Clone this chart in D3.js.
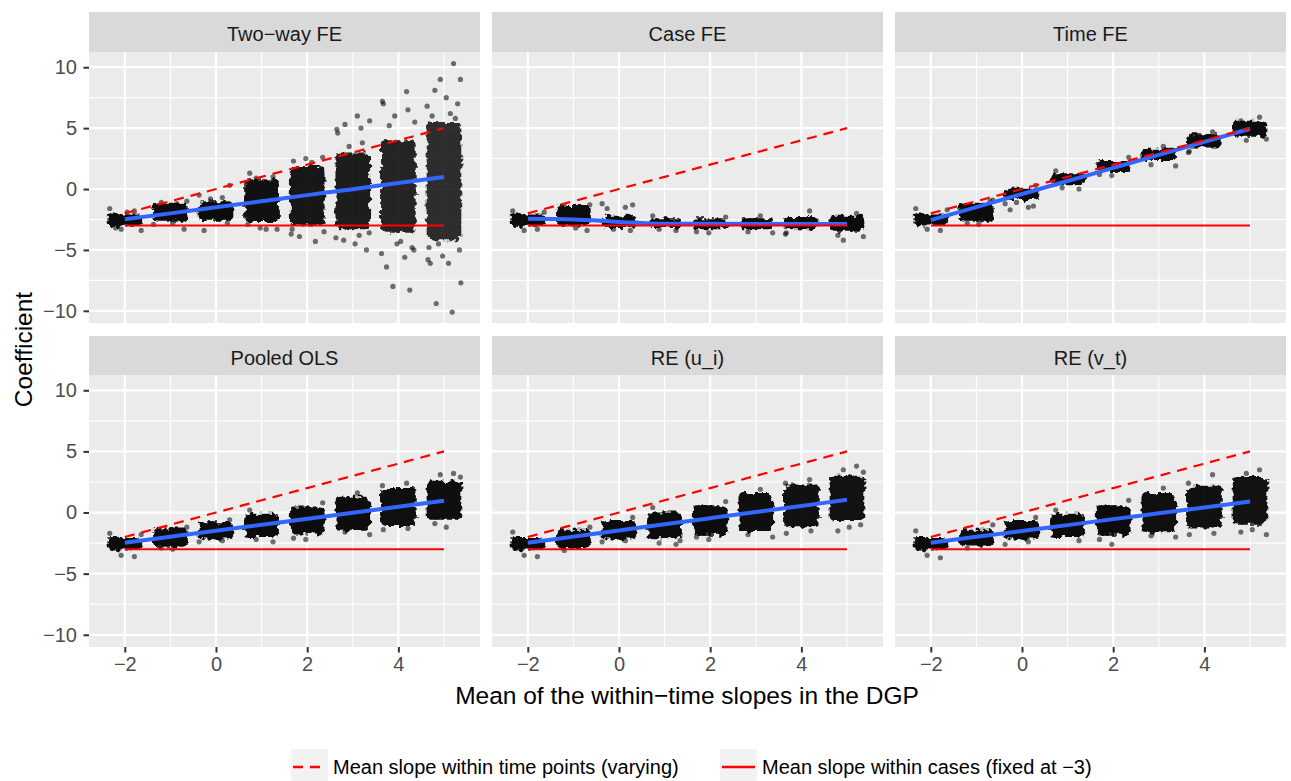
<!DOCTYPE html>
<html>
<head>
<meta charset="utf-8">
<script src="https://cdn.jsdelivr.net/npm/d3@7"></script>
<style>
  body { margin: 0; background: #fff; }
  text { font-family: "Liberation Sans", Arial, Helvetica, sans-serif; }
</style>
</head>
<body>
<div id="chart"></div>
<script>
// x levels (mean of within-time slopes in the DGP)
const levels = [-2, -1, 0, 1, 2, 3, 4, 5];
const panelNames = ["Two\u2212way FE", "Case FE", "Time FE", "Pooled OLS", "RE (u_i)", "RE (v_t)"];

// dense part of each jittered cloud (low / high), one row per panel
const coreLow = [
  [-3.1, -2.6, -2.6, -2.7, -3.0, -3.3, -3.6, -4.2],
  [-3.1, -3.0, -3.2, -3.2, -3.3, -3.3, -3.3, -3.5],
  [-3.0, -2.6, -0.9, 0.3, 1.4, 2.3, 3.4, 4.3],
  [-3.1, -2.8, -2.2, -2.0, -1.8, -1.5, -1.1, -0.6],
  [-3.1, -2.9, -2.2, -2.1, -1.9, -1.6, -1.2, -0.7],
  [-3.1, -2.7, -2.2, -2.0, -1.9, -1.7, -1.3, -1.0]
];
const coreHigh = [
  [-2.0, -1.2, -1.0, 0.8, 1.9, 3.0, 4.0, 5.5],
  [-2.0, -1.4, -2.2, -2.4, -2.4, -2.4, -2.3, -2.2],
  [-2.0, -1.2, 0.1, 1.3, 2.3, 3.3, 4.5, 5.6],
  [-2.0, -1.3, -0.8, -0.1, 0.5, 1.3, 2.0, 2.6],
  [-2.0, -1.4, -0.7, 0.0, 0.6, 1.6, 2.3, 3.0],
  [-2.0, -1.4, -0.7, -0.1, 0.6, 1.6, 2.2, 2.9]
];

// scattered points outside the dense part
const fringeY = [
  [
    [-1.6, -1.8, -3.3, -3.4, -3.2, -1.9],
    [-1.0, -1.1, -2.8, -3.3, -2.9, -1.2],
    [0.3, -0.5, -0.7, -3.4, -2.8, -0.8],
    [1.3, 1.0, 0.9, -3.3, -3.2, -2.9, -3.3],
    [2.6, 2.5, 2.3, 2.2, -3.5, -3.9, -4.3, -3.7, -3.3],
    [6.0, 5.6, 5.3, 5.0, 4.9, 4.6, 3.8, 3.5, -3.6, -4.2, -4.5, -5.0, -4.0, -3.8],
    [8.0, 7.2, 7.0, 6.5, 6.0, 5.5, 5.2, -4.3, -4.8, -5.3, -5.6, -6.4, -8.3, -8.0, -5.0, -4.5],
    [10.3, 9.0, 9.0, 8.1, 7.5, 7.0, 6.8, 6.2, 6.0, 5.8, -4.5, -5.0, -5.5, -6.1, -6.1, -7.7, -9.4, -10.1, -5.8, -4.8]
  ],
  [
    [-1.8, -3.3, -3.4, -1.9],
    [-1.3, -1.4, -3.2, -3.4],
    [-1.3, -1.2, -1.5, -1.6, -3.4, -3.3],
    [-2.2, -3.4, -3.3],
    [-2.3, -3.6, -3.5],
    [-2.2, -3.6, -3.5],
    [-1.8, -3.7, -3.6],
    [-2.0, -4.2, -3.9, -3.8]
  ],
  [
    [-1.6, -3.4, -3.3, -1.7],
    [-0.9, -2.8, -2.9, -1.0],
    [0.3, -1.2, -1.5, -1.7, -1.4, -1.1],
    [1.5, 0.0, 0.1],
    [2.6, 1.1, 1.2],
    [3.5, 1.9, 2.0],
    [4.7, 3.0, 3.1],
    [5.9, 4.0, 4.1, 5.6]
  ],
  [
    [-1.7, -3.6, -3.5, -1.8],
    [-1.2, -2.9, -3.0],
    [-0.6, -2.4, -2.3],
    [0.2, -2.4, -2.2],
    [0.8, -2.2, -2.1],
    [1.6, -1.8, -1.6],
    [2.4, 2.2, -1.4, -1.3],
    [3.2, 3.1, 2.9, -0.9, -1.2]
  ],
  [
    [-1.6, -3.6, -3.5],
    [-1.2, -3.1],
    [-0.4, -2.4, -2.3],
    [0.4, -2.6, -2.5, -2.3],
    [0.9, -2.2, -2.0],
    [1.9, -2.0, -1.8],
    [2.7, 2.4, -1.7, -1.5],
    [3.8, 3.5, 3.3, -1.5, -1.2, -1.0]
  ],
  [
    [-1.5, -3.7, -3.5],
    [-1.0, -2.9],
    [-0.4, -2.6, -2.4],
    [0.2, -2.3],
    [1.0, -2.6, -2.2],
    [2.0, -2.0, -1.9],
    [3.1, 2.4, -1.8, -1.7],
    [3.5, 3.2, -1.8, -1.6, -1.4]
  ]
];
// horizontal jitter of the scattered points (in x units)
const jitterOffsets = [-0.33, 0.21, -0.08, 0.36, -0.2, 0.05, 0.3, -0.37, 0.14, -0.26,
                       0.25, -0.12, 0.34, -0.03, -0.3, 0.1, 0.37, -0.17, 0.18, -0.35];

// blue smoothed fit at each level
const fitLine = [
  [-2.49, -2.0, -1.5, -1.0, -0.5, -0.01, 0.49, 0.98],
  [-2.45, -2.5, -2.7, -2.85, -2.86, -2.87, -2.88, -2.88],
  [-2.55, -1.48, -0.41, 0.66, 1.73, 2.8, 3.87, 4.95],
  [-2.47, -1.98, -1.49, -1.0, -0.51, -0.02, 0.47, 0.96],
  [-2.47, -1.97, -1.47, -0.96, -0.46, 0.04, 0.54, 1.04],
  [-2.47, -1.99, -1.51, -1.03, -0.54, -0.06, 0.42, 0.9]
];
// reference lines
const withinTimeMean = [-2, -1, 0, 1, 2, 3, 4, 5];
const withinCaseMean = [-3, -3, -3, -3, -3, -3, -3, -3];

const yMajor = [-10, -5, 0, 5, 10], yMinor = [-7.5, -2.5, 2.5, 7.5];
const xMajor = [-2, 0, 2, 4], xMinor = [-1, 1, 3, 5];

const W = 1291, H = 781;
const colX = [89, 492, 895], panelW = 391;
const stripTop = [12, 336], panelTop = [52, 375], panelH = [271, 272];
const smallFont = 20, titleFont = 24.5;

const svg = d3.select("#chart").append("svg")
  .attr("width", W).attr("height", H);
svg.append("rect").attr("width", W).attr("height", H).attr("fill", "#fff");

// ragged edges so the dense clouds read as piles of dots
const defs = svg.append("defs");
const rough = defs.append("filter").attr("id", "rough")
  .attr("x", "-30%").attr("y", "-30%").attr("width", "160%").attr("height", "160%");
rough.append("feTurbulence").attr("type", "fractalNoise").attr("baseFrequency", 0.18)
  .attr("numOctaves", 2).attr("seed", 7).attr("result", "noise");
rough.append("feDisplacementMap").attr("in", "SourceGraphic").attr("in2", "noise")
  .attr("scale", 8).attr("xChannelSelector", "R").attr("yChannelSelector", "G");

const x = d3.scaleLinear().domain([-2.785, 5.79]).range([0, panelW]);

panelNames.forEach((name, p) => {
  const row = Math.floor(p / 3), col = p % 3;
  const y = d3.scaleLinear().domain([-11.0, 11.25]).range([panelH[row], 0]);

  // strip
  svg.append("rect")
    .attr("x", colX[col]).attr("y", stripTop[row])
    .attr("width", panelW).attr("height", panelTop[row] - stripTop[row])
    .attr("fill", "#d9d9d9");
  svg.append("text")
    .attr("x", colX[col] + panelW / 2).attr("y", stripTop[row] + 28.5)
    .attr("text-anchor", "middle")
    .attr("font-size", smallFont).attr("fill", "#1a1a1a")
    .text(name);

  const g = svg.append("g").attr("transform", `translate(${colX[col]},${panelTop[row]})`);
  g.append("rect").attr("width", panelW).attr("height", panelH[row]).attr("fill", "#ebebeb");

  // grid
  g.selectAll(".ymin").data(yMinor).join("line")
    .attr("x1", 0).attr("x2", panelW).attr("y1", d => y(d)).attr("y2", d => y(d))
    .attr("stroke", "#fff").attr("stroke-width", 1.1);
  g.selectAll(".xmin").data(xMinor).join("line")
    .attr("y1", 0).attr("y2", panelH[row]).attr("x1", d => x(d)).attr("x2", d => x(d))
    .attr("stroke", "#fff").attr("stroke-width", 1.1);
  g.selectAll(".ymaj").data(yMajor).join("line")
    .attr("x1", 0).attr("x2", panelW).attr("y1", d => y(d)).attr("y2", d => y(d))
    .attr("stroke", "#fff").attr("stroke-width", 2.2);
  g.selectAll(".xmaj").data(xMajor).join("line")
    .attr("y1", 0).attr("y2", panelH[row]).attr("x1", d => x(d)).attr("x2", d => x(d))
    .attr("stroke", "#fff").attr("stroke-width", 2.2);

  // point clouds: dense core (a little lighter when spread out), then scattered points
  const clouds = levels.map((lv, i) => ({ lv, lo: coreLow[p][i], hi: coreHigh[p][i] }));
  g.append("g").attr("filter", "url(#rough)")
    .selectAll("rect").data(clouds).join("rect")
    .attr("x", d => x(d.lv - 0.38)).attr("width", x(0.76) - x(0))
    .attr("y", d => y(d.hi)).attr("height", d => y(d.lo) - y(d.hi))
    .attr("rx", 5).attr("fill", "#000")
    .attr("opacity", d => Math.max(0.8, Math.min(0.95, 1.0 - 0.02 * (d.hi - d.lo))));

  const pts = [];
  levels.forEach((lv, i) => {
    fringeY[p][i].forEach((v, k) => {
      pts.push({ x: lv + jitterOffsets[(k + i * 3) % jitterOffsets.length], y: v });
    });
  });
  g.selectAll(".pt").data(pts).join("circle")
    .attr("cx", d => x(d.x)).attr("cy", d => y(d.y)).attr("r", 2.6)
    .attr("fill", "#000").attr("opacity", 0.55);

  // blue fit
  const fit = d3.line().x((d, i) => x(levels[i])).y(d => y(d)).curve(d3.curveMonotoneX);
  g.append("path").datum(fitLine[p]).attr("d", fit)
    .attr("fill", "none").attr("stroke", "#3366ff").attr("stroke-width", 4);

  // red reference lines
  const straight = d3.line().x((d, i) => x(levels[i])).y(d => y(d));
  g.append("path").datum(withinTimeMean).attr("d", straight)
    .attr("fill", "none").attr("stroke", "#ff0000").attr("stroke-width", 2.2)
    .attr("stroke-dasharray", "10,7");
  g.append("path").datum(withinCaseMean).attr("d", straight)
    .attr("fill", "none").attr("stroke", "#ff0000").attr("stroke-width", 2);

  // axes
  if (col === 0) {
    const ax = g.append("g").call(d3.axisLeft(y).tickValues(yMajor).tickSize(5.5).tickPadding(6.5));
    ax.select(".domain").remove();
    ax.selectAll("line").attr("stroke", "#333").attr("stroke-width", 2);
    ax.selectAll("text").attr("font-size", smallFont).attr("fill", "#4d4d4d")
      .attr("font-family", "Liberation Sans, Arial, sans-serif");
  }
  if (row === 1) {
    const ax = g.append("g").attr("transform", `translate(0,${panelH[row]})`)
      .call(d3.axisBottom(x).tickValues(xMajor).tickSize(5.5).tickPadding(4.5));
    ax.select(".domain").remove();
    ax.selectAll("line").attr("stroke", "#333").attr("stroke-width", 2);
    ax.selectAll("text").attr("font-size", smallFont).attr("fill", "#4d4d4d")
      .attr("font-family", "Liberation Sans, Arial, sans-serif");
  }
});

// axis titles
svg.append("text")
  .attr("x", 687).attr("y", 704).attr("text-anchor", "middle")
  .attr("font-size", titleFont).attr("fill", "#000")
  .text("Mean of the within\u2212time slopes in the DGP");
svg.append("text")
  .attr("transform", "translate(31.5,349.5) rotate(-90)")
  .attr("text-anchor", "middle")
  .attr("font-size", titleFont).attr("fill", "#000")
  .text("Coefficient");

// legend
const legendItems = [
  { label: "Mean slope within time points (varying)", dash: "10,7", kx: 291 },
  { label: "Mean slope within cases (fixed at \u22123)", dash: null, kx: 720 }
];
const lg = svg.append("g");
legendItems.forEach(d => {
  lg.append("rect").attr("x", d.kx).attr("y", 749).attr("width", 37).attr("height", 37)
    .attr("fill", "#f2f2f2");
  lg.append("line").attr("x1", d.kx + 2).attr("x2", d.kx + 35)
    .attr("y1", 767).attr("y2", 767)
    .attr("stroke", "#ff0000").attr("stroke-width", 2.5)
    .attr("stroke-dasharray", d.dash);
  lg.append("text").attr("x", d.kx + 42).attr("y", 774)
    .attr("font-size", smallFont).attr("fill", "#000")
    .text(d.label);
});
</script>
</body>
</html>
